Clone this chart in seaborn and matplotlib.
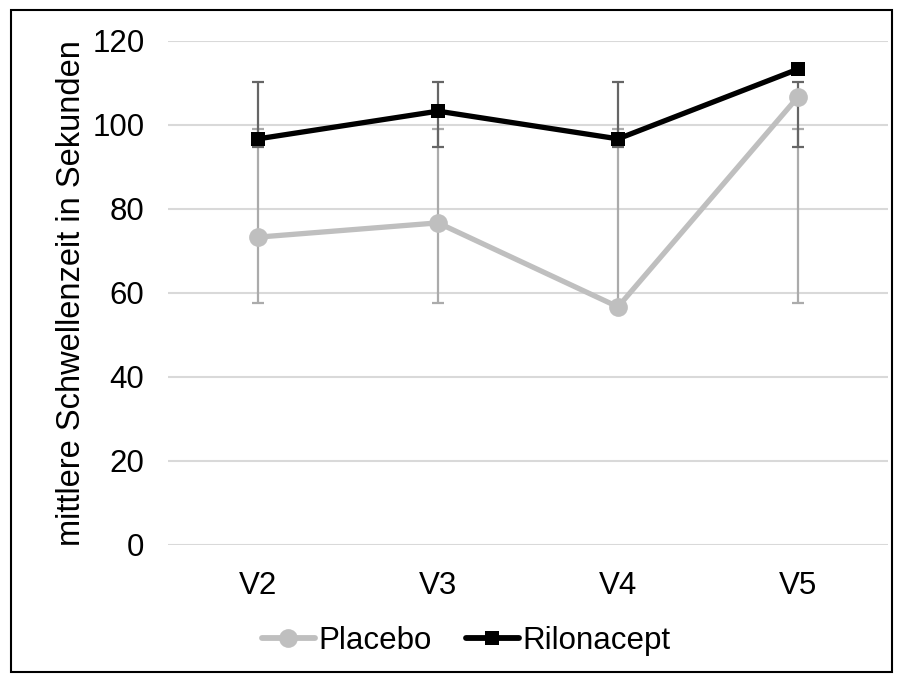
import matplotlib
matplotlib.use("Agg")
import matplotlib.pyplot as plt
from matplotlib.lines import Line2D
from matplotlib.patches import Rectangle
import seaborn as sns
import pandas as pd

visits = ["V2", "V3", "V4", "V5"]
placebo = [73.3, 76.7, 56.7, 106.7]
rilonacept = [96.7, 103.3, 96.7, 113.3]

# error bar end points (lower, upper) per visit
placebo_lo = [57.6, 57.6, 57.6, 57.6]
placebo_hi = [99.0, 99.0, 99.0, 99.0]
rilonacept_lo = [94.7, 94.7, 94.7, 94.7]
rilonacept_hi = [110.3, 110.3, 110.3, 110.3]

y_ticks = [0, 20, 40, 60, 80, 100, 120]
y_label = "mittlere Schwellenzeit in Sekunden"
series_names = ["Placebo", "Rilonacept"]

sns.set_theme(style="white")
plt.rcParams["font.family"] = ["Liberation Sans", "DejaVu Sans"]
plt.rcParams["text.color"] = "black"
plt.rcParams["axes.labelcolor"] = "black"

c_placebo = "#BFBFBF"
c_ril = "#000000"
fs = 22.5

df = pd.DataFrame({
    "Visite": visits * 2,
    "Wert": placebo + rilonacept,
    "Gruppe": [series_names[0]] * 4 + [series_names[1]] * 4,
})
df["x"] = df["Visite"].map({v: i for i, v in enumerate(visits)})

fig = plt.figure(figsize=(9.02, 6.8), dpi=100)
ax = fig.add_axes([168 / 902, 1 - 545 / 680, 720 / 902, 504 / 680])

xs = list(range(len(visits)))


def draw_range(lo, hi, color):
    ax.vlines(xs, lo, hi, colors=color, linewidth=1.6, zorder=2)
    ax.plot(xs, lo, linestyle="none", marker="_", markersize=8.6,
            markeredgewidth=1.6, color=color, zorder=2)
    ax.plot(xs, hi, linestyle="none", marker="_", markersize=8.6,
            markeredgewidth=1.6, color=color, zorder=2)


draw_range(placebo_lo, placebo_hi, "#ABABAB")
draw_range(rilonacept_lo, rilonacept_hi, "#666666")

sns.lineplot(data=df, x="x", y="Wert", hue="Gruppe", style="Gruppe",
             palette={series_names[0]: c_placebo, series_names[1]: c_ril},
             markers={series_names[0]: "o", series_names[1]: "s"},
             dashes=False, linewidth=3.8, ax=ax, legend=False)
lines = ax.get_lines()[-2:]
lines[0].set_markersize(13.5)
lines[0].set_markeredgewidth(0)
lines[1].set_markersize(10.5)
lines[1].set_markeredgewidth(0)
for l in lines:
    l.set_zorder(4)

ax.set_xlim(-0.5, 3.5)
ax.set_ylim(0, 120)
ax.set_yticks(y_ticks)
ax.set_xticks(xs)
ax.set_xticklabels(visits)
ax.tick_params(axis="both", length=0, labelsize=fs, colors="#000000")
ax.tick_params(axis="y", pad=17)
ax.tick_params(axis="x", pad=19)
ax.yaxis.grid(True, color="#D9D9D9", linewidth=1.5)
ax.set_axisbelow(True)
for s in ax.spines.values():
    s.set_visible(False)
ax.set_xlabel("")
ax.set_ylabel(y_label, fontsize=23.5, labelpad=4, color="black")

handles = [
    Line2D([], [], color=c_placebo, marker="o", markersize=13.5, markeredgewidth=0, linewidth=4.2),
    Line2D([], [], color=c_ril, marker="s", markersize=10.5, markeredgewidth=0, linewidth=4.2),
]
fig.legend(handles, series_names, loc="center", bbox_to_anchor=(466 / 902, 1 - 641 / 680),
           ncol=2, frameon=False, fontsize=fs, handlelength=1.7, handletextpad=0.1,
           columnspacing=1.1, labelcolor="black")

fig.add_artist(Rectangle((11 / 902, 1 - 672 / 680), 881 / 902, 662 / 680,
                         transform=fig.transFigure, fill=False, edgecolor="black",
                         linewidth=1.5))

fig.savefig("out.png", dpi=100)
